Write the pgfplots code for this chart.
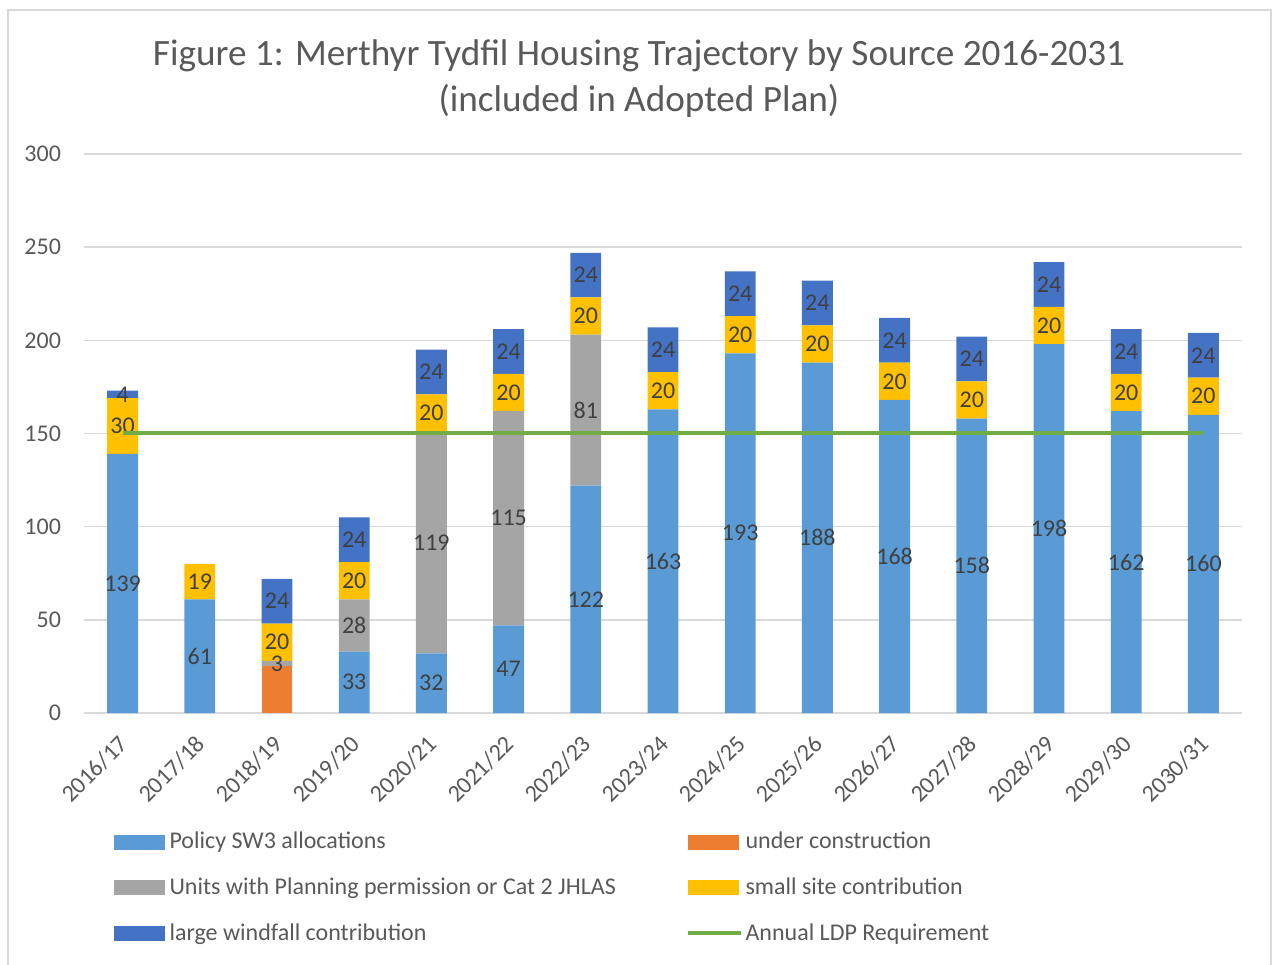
\documentclass[border=0pt]{standalone}
\usepackage{pgfplots}
\usepackage{pgfplotstable}
\pgfplotsset{compat=1.18}
\usepackage{fontspec}
\setmainfont{Carlito}
\definecolor{cSW}{HTML}{5B9BD5}
\definecolor{cUC}{HTML}{ED7D31}
\definecolor{cPP}{HTML}{A5A5A5}
\definecolor{cSS}{HTML}{FFC000}
\definecolor{cLW}{HTML}{4472C4}
\definecolor{cLDP}{HTML}{70AD47}
\definecolor{cTxt}{HTML}{595959}
\definecolor{cLab}{HTML}{404040}
\definecolor{cGrid}{HTML}{D9D9D9}
\pgfplotstableread{
x sw uc pp ss lw
0 139 0 0 30 4
1 61 0 0 19 0
2 0 25 3 20 24
3 33 0 28 20 24
4 32 0 119 20 24
5 47 0 115 20 24
6 122 0 81 20 24
7 163 0 0 20 24
8 193 0 0 20 24
9 188 0 0 20 24
10 168 0 0 20 24
11 158 0 0 20 24
12 198 0 0 20 24
13 162 0 0 20 24
14 160 0 0 20 24
}\datatable
\pgfplotstableread{
x ldp
0 150
14 150
}\ldptable
\pgfplotsset{
  seglabel/.style={
    visualization depends on={\thisrow{#1} \as \rawy},
    nodes near coords={\ifdim\rawy pt>0.5pt\relax\pgfmathprintnumber{\rawy}\fi},
    every node near coord/.append style={anchor=center, font=\fontsize{12}{14}\selectfont, text=cLab, inner sep=0pt},
  },
  barleg/.style={legend image code/.code={\fill[##1,draw=none] (0pt,-3.75pt) rectangle (25.5pt,3.75pt); \path (0pt,0pt) -- (26.5pt,0pt);}},
  lineleg/.style={legend image code/.code={\draw[##1] (0pt,0pt) -- (25.5pt,0pt); \path (0pt,0pt) -- (26.5pt,0pt);}},
}
\begin{document}
\begin{tikzpicture}
\useasboundingbox (0,0) rectangle (637pt,482pt);
\draw[cGrid, line width=0.75pt] (4pt,-1pt) -- (4pt,477pt) -- (635.5pt,477pt) -- (635.5pt,-1pt);
\node[text=cTxt, font=\fontsize{18.6}{23}\selectfont, align=center] at (319.5pt,442.75pt)
  {Figure 1: Merthyr Tydfil Housing Trajectory by Source 2016-2031\\(included in Adopted Plan)};
\begin{axis}[
  at={(42pt,125.5pt)}, anchor=south west,
  scale only axis, width=579pt, height=279.5pt,
  ybar stacked, bar width=0.4,
  xmin=-0.5, xmax=14.5, ymin=0, ymax=300,
  xtick={0,...,14},
  xticklabels={2016/17,2017/18,2018/19,2019/20,2020/21,2021/22,2022/23,2023/24,2024/25,2025/26,2026/27,2027/28,2028/29,2029/30,2030/31},
  ytick={0,50,...,300},
  ymajorgrids, grid style={cGrid, line width=0.75pt},
  axis line style={draw=none},
  major tick length=0pt,
  tick label style={font=\fontsize{12}{14}\selectfont, text=cTxt},
  /pgf/number format/assume math mode=true,
  yticklabel style={xshift=-8pt},
  xticklabel style={rotate=45, anchor=east, xshift=-5.7pt, yshift=-10pt},
  legend columns=2,
  legend cell align=left,
  legend style={at={(axis description cs:0.02,-0.2)}, anchor=north west, draw=none, fill=none,
    font=\fontsize{12}{14}\selectfont, text=cTxt, row sep=10pt, nodes={inner sep=1.5pt}},
]
\addplot[fill=cSW, draw=none, barleg, seglabel=sw] table[x=x,y=sw]{\datatable};
\addlegendentry{\makebox[256.5pt][l]{Policy SW3 allocations}}
\addplot[fill=cUC, draw=none, barleg] table[x=x,y=uc]{\datatable};
\addlegendentry{under construction}
\addplot[fill=cPP, draw=none, barleg, seglabel=pp] table[x=x,y=pp]{\datatable};
\addlegendentry{\makebox[256.5pt][l]{Units with Planning permission or Cat 2 JHLAS}}
\addplot[fill=cSS, draw=none, barleg, seglabel=ss] table[x=x,y=ss]{\datatable};
\addlegendentry{small site contribution}
\addplot[fill=cLW, draw=none, barleg, seglabel=lw] table[x=x,y=lw]{\datatable};
\addlegendentry{\makebox[256.5pt][l]{large windfall contribution}}
\addlegendimage{cLDP, line width=2pt, lineleg}
\addlegendentry{Annual LDP Requirement}
\end{axis}
\begin{axis}[
  at={(42pt,125.5pt)}, anchor=south west,
  scale only axis, width=579pt, height=279.5pt,
  xmin=-0.5, xmax=14.5, ymin=0, ymax=300, hide axis]
\addplot[cLDP, line width=2pt, no markers] table[x=x,y=ldp]{\ldptable};
\end{axis}
\end{tikzpicture}
\end{document}
